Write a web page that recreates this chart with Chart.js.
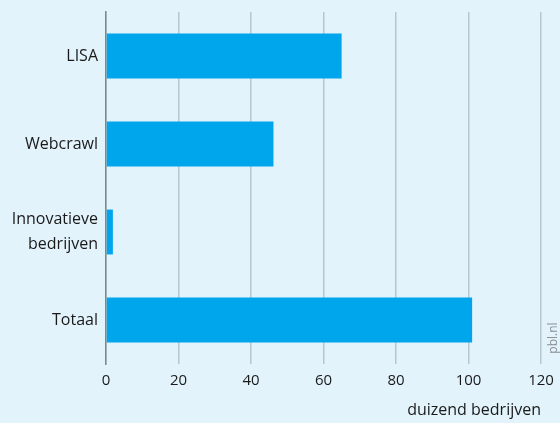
<!DOCTYPE html>
<html>
<head>
<meta charset="utf-8">
<script src="https://cdn.jsdelivr.net/npm/chart.js@4/dist/chart.umd.min.js"></script>
<style>
  html, body { margin: 0; padding: 0; background: #e2f3fb; }
  #wrap { width: 560px; height: 423px; }
</style>
</head>
<body>
<div id="wrap"><canvas id="c" width="560" height="423"></canvas></div>
<script>
const categories = ["LISA", "Webcrawl", ["Innovatieve", "bedrijven"], "Totaal"];
const values = [65, 46.2, 1.9, 101];
const xTicks = [0, 20, 40, 60, 80, 100, 120];
const axisTitle = "duizend bedrijven";
const sourceText = "pbl.nl";

const bgPlugin = {
  id: 'bg',
  beforeDraw(chart) {
    const ctx = chart.ctx;
    ctx.save();
    ctx.fillStyle = '#e2f3fb';
    ctx.fillRect(0, 0, chart.width, chart.height);
    ctx.restore();
  },
  afterDraw(chart) {
    const ctx = chart.ctx;
    const area = chart.chartArea;
    ctx.save();
    ctx.translate(area.right + 13, area.bottom - 26);
    ctx.rotate(-Math.PI / 2);
    ctx.font = '12px "Open Sans"';
    ctx.fillStyle = '#8a8f93';
    ctx.textAlign = 'center';
    ctx.textBaseline = 'middle';
    ctx.fillText(sourceText, 0, 0);
    ctx.restore();
  }
};

new Chart(document.getElementById('c'), {
  type: 'bar',
  data: {
    labels: categories,
    datasets: [{
      data: values,
      backgroundColor: '#00a6eb',
      borderWidth: 0,
      categoryPercentage: 1,
      barPercentage: 0.51
    }]
  },
  options: {
    indexAxis: 'y',
    responsive: false,
    animation: false,
    devicePixelRatio: 1,
    layout: { padding: { top: 12, right: 19, left: 0, bottom: 0 } },
    plugins: { legend: { display: false }, tooltip: { enabled: false } },
    scales: {
      x: {
        min: 0, max: 120,
        afterBuildTicks(scale) { scale.ticks = xTicks.map(v => ({ value: v })); },
        afterFit(scale) { scale.height = 59; scale.paddingRight = 0; scale.paddingLeft = 0; },
        grid: { color: '#b7c7cf', lineWidth: 1.5, drawTicks: false },
        border: { display: false },
        ticks: { padding: 8, color: '#1a1a1a', font: { family: '"Open Sans"', size: 15 } },
        title: {
          display: true, text: axisTitle, align: 'end',
          color: '#1a1a1a', font: { family: '"Open Sans"', size: 16 },
          padding: { top: 0, bottom: 3 }
        }
      },
      y: {
        afterFit(scale) { scale.width = 106; scale.paddingTop = 0; scale.paddingBottom = 0; },
        grid: { display: false, drawTicks: false },
        border: { display: true, color: '#7d878d', width: 1.5 },
        ticks: { padding: 8, color: '#1a1a1a', font: { family: '"Open Sans"', size: 16, lineHeight: 1.55 } }
      }
    }
  },
  plugins: [bgPlugin]
});
</script>
</body>
</html>
